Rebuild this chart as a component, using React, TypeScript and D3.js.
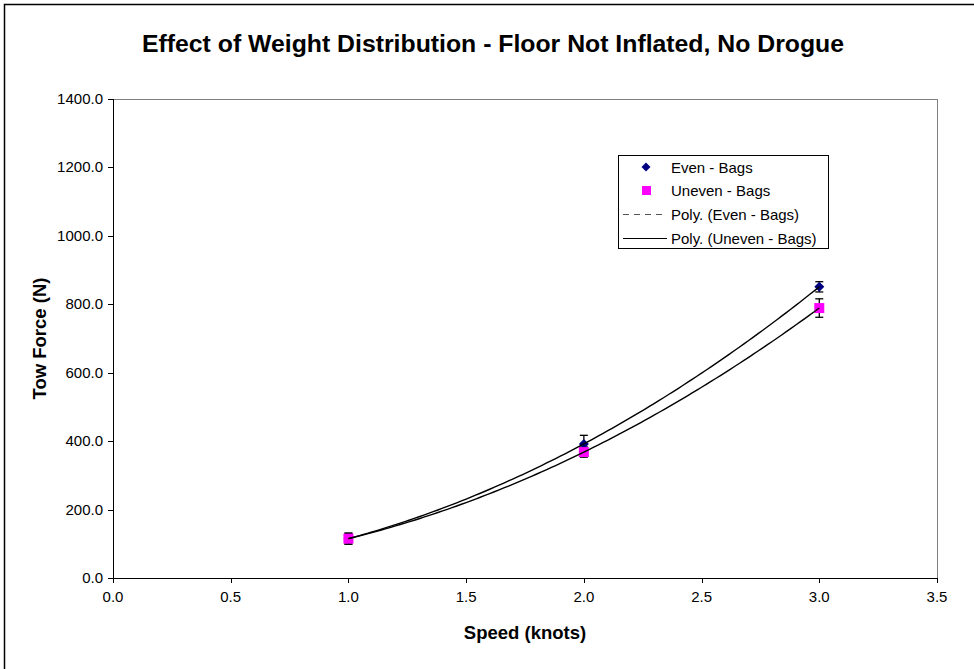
import * as d3 from "d3";

const W = 974;
const H = 669;
const left = 113;
const right = 937;
const top = 99;
const bottom = 578;

const speeds = [1, 2, 3];
const evenForce = [115, 392, 851];
const evenErr = [16, 25, 15];
const unevenForce = [115, 368, 789];
const unevenErr = [16, 15, 27];
const xTicks = [0, 0.5, 1, 1.5, 2, 2.5, 3, 3.5];
const yTicks = [0, 200, 400, 600, 800, 1000, 1200, 1400];

const font = "'Liberation Sans', Arial, sans-serif";

const x = d3.scaleLinear().domain([0, 3.5]).range([left, right]);
const y = d3.scaleLinear().domain([0, 1400]).range([bottom, top]);

// second order fit through the three points
function quadFit(vals: number[]) {
  const a = (vals[2] - 2 * vals[1] + vals[0]) / 2;
  const b = vals[1] - vals[0] - 3 * a;
  const c = vals[0] - a - b;
  return (s: number) => a * s * s + b * s + c;
}

function trend(vals: number[]) {
  const f = quadFit(vals);
  const pts = d3.range(1, 3.0001, 0.02).map((s) => [s, f(s)] as [number, number]);
  return d3
    .line<[number, number]>()
    .x((d) => x(d[0]))
    .y((d) => y(d[1]))(pts) as string;
}

function ErrBar({ cx, v, e }: { cx: number; v: number; e: number }) {
  return (
    <g stroke="#000" strokeWidth={1.3}>
      <line x1={cx} x2={cx} y1={y(v - e)} y2={y(v + e)} />
      <line x1={cx - 4} x2={cx + 4} y1={y(v - e)} y2={y(v - e)} />
      <line x1={cx - 4} x2={cx + 4} y1={y(v + e)} y2={y(v + e)} />
    </g>
  );
}

const diamond = (cx: number, cy: number, r = 5) =>
  `M${cx},${cy - r}L${cx + r},${cy}L${cx},${cy + r}L${cx - r},${cy}Z`;

export default function App() {
  const legX = 618;
  const legY = 155;
  return (
    <svg width={W} height={H} style={{ position: "absolute", left: 0, top: 0 }}>
      <rect x={0} y={0} width={W} height={H} fill="#fff" />
      <rect x={4.5} y={4.5} width={W + 20} height={H + 20} fill="none" stroke="#000" strokeWidth={1.5} />
      <text x={493} y={52} textAnchor="middle" fontFamily={font} fontWeight="bold" fontSize={24.8}>
        Effect of Weight Distribution - Floor Not Inflated, No Drogue
      </text>

      {/* plot frame */}
      <line x1={left} x2={right} y1={top + 0.5} y2={top + 0.5} stroke="#808080" />
      <line x1={right + 0.5} x2={right + 0.5} y1={top} y2={bottom} stroke="#808080" />
      <line x1={left + 0.5} x2={left + 0.5} y1={top} y2={bottom + 5} stroke="#000" />
      <line x1={left} x2={right + 1} y1={bottom + 0.5} y2={bottom + 0.5} stroke="#000" />

      {yTicks.map((t) => (
        <g key={t}>
          <line x1={left - 5} x2={left} y1={Math.round(y(t)) + 0.5} y2={Math.round(y(t)) + 0.5} stroke="#000" />
          <text x={left - 10} y={y(t) + 5} textAnchor="end" fontFamily={font} fontSize={15}>
            {t.toFixed(1)}
          </text>
        </g>
      ))}
      {xTicks.map((t) => (
        <g key={t}>
          <line x1={Math.round(x(t)) + 0.5} x2={Math.round(x(t)) + 0.5} y1={bottom} y2={bottom + 5} stroke="#000" />
          <text x={x(t)} y={bottom + 24} textAnchor="middle" fontFamily={font} fontSize={15}>
            {t.toFixed(1)}
          </text>
        </g>
      ))}

      <text x={(left + right) / 2} y={639} textAnchor="middle" fontFamily={font} fontWeight="bold" fontSize={18.5}>
        Speed (knots)
      </text>
      <text
        transform={`translate(46,${(top + bottom) / 2}) rotate(-90)`}
        textAnchor="middle"
        fontFamily={font}
        fontWeight="bold"
        fontSize={18.5}
      >
        Tow Force (N)
      </text>

      {speeds.map((s, i) => (
        <g key={"e" + s}>
          <ErrBar cx={x(s)} v={evenForce[i]} e={evenErr[i]} />
        </g>
      ))}
      {speeds.map((s, i) => (
        <g key={"u" + s}>
          <ErrBar cx={x(s)} v={unevenForce[i]} e={unevenErr[i]} />
        </g>
      ))}
      {speeds.map((s, i) => (
        <path key={"d" + s} d={diamond(x(s), y(evenForce[i]))} fill="#000080" />
      ))}
      {speeds.map((s, i) => (
        <rect key={"s" + s} x={x(s) - 5} y={y(unevenForce[i]) - 5} width={10} height={10} fill="#ff00ff" />
      ))}
      {/* trend lines sit on top of the markers */}
      <path d={trend(evenForce)} fill="none" stroke="#000" strokeWidth={1.4} />
      <path d={trend(unevenForce)} fill="none" stroke="#000" strokeWidth={1.4} />

      {/* legend */}
      <rect x={legX + 0.5} y={legY + 0.5} width={210} height={93} fill="#fff" stroke="#000" />
      <path d={diamond(legX + 28, legY + 12, 4.5)} fill="#000080" />
      <rect x={legX + 24} y={legY + 31} width={9} height={9} fill="#ff00ff" />
      <line x1={legX + 5} x2={legX + 49} y1={legY + 59.5} y2={legY + 59.5} stroke="#555" strokeDasharray="6,5" />
      <line x1={legX + 5} x2={legX + 49} y1={legY + 83.5} y2={legY + 83.5} stroke="#000" />
      {["Even - Bags", "Uneven - Bags", "Poly. (Even - Bags)", "Poly. (Uneven - Bags)"].map((t, i) => (
        <text key={t} x={legX + 53} y={legY + 17.5 + i * 23.7} fontFamily={font} fontSize={15}>
          {t}
        </text>
      ))}
    </svg>
  );
}
